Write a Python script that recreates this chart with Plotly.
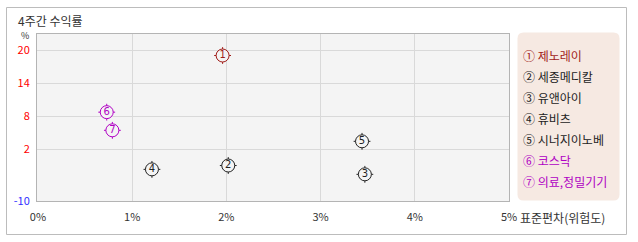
import plotly.graph_objects as go

# ---- data ----
names = ["제노레이", "세종메디칼", "유앤아이", "휴비츠", "시너지이노베", "코스닥", "의료,정밀기기"]
marks = ["①", "②", "③", "④", "⑤", "⑥", "⑦"]
digits = ["1", "2", "3", "4", "5", "6", "7"]
risk = [1.96, 2.02, 3.47, 1.21, 3.44, 0.73, 0.79]        # 표준편차 (%)
ret = [19.0, -1.0, -2.6, -1.7, 3.4, 8.7, 5.4]            # 4주간 수익률 (%)
colors = ["#a01c18", "#222222", "#222222", "#222222", "#222222", "#b000c4", "#b000c4"]
x_ticks = [0, 1, 2, 3, 4, 5]
x_tick_text = ["0%", "1%", "2%", "3%", "4%", "5%"]
y_ticks = [20, 14, 8, 2]
y_bottom_label = "-10"

W, H = 638, 242
L, R, T, B = 37, 129, 34, 41
pw, ph = W - L - R, H - T - B
Y_MIN, Y_MAX = -7.45, 22.91
X_MIN, X_MAX = -0.01, 5.0

def px(x):
    return (x - L) / pw

def py(y):
    return (H - B - y) / ph

fig = go.Figure()

# small tick marks around the circles (cross behind a filled circle)
fig.add_trace(go.Scatter(
    x=risk, y=ret, mode="markers", hoverinfo="skip",
    marker=dict(symbol="cross-thin-open", size=12, color=colors,
                line=dict(color=colors, width=1)),
    showlegend=False, cliponaxis=False))
fig.add_trace(go.Scatter(
    x=risk, y=ret, mode="markers+text", text=digits,
    textposition="middle center",
    textfont=dict(family="DejaVu Sans", size=10, color=colors),
    marker=dict(symbol="circle", size=13, color="#f4f4f4",
                line=dict(color=colors, width=1)),
    showlegend=False, cliponaxis=False))

shapes = []
# outer frame
shapes.append(dict(type="rect", xref="paper", yref="paper",
                   x0=px(6.5), x1=px(626.5), y0=py(7.5), y1=py(234.5),
                   line=dict(color="#bcbcbc", width=1), fillcolor="rgba(0,0,0,0)", layer="below"))
# legend box with rounded corners
lx0, lx1, ly0, ly1, r = 517.5, 619.5, 32.5, 200.5, 6
path = (f"M {px(lx0 + r)},{py(ly0)} L {px(lx1 - r)},{py(ly0)} "
        f"Q {px(lx1)},{py(ly0)} {px(lx1)},{py(ly0 + r)} "
        f"L {px(lx1)},{py(ly1 - r)} Q {px(lx1)},{py(ly1)} {px(lx1 - r)},{py(ly1)} "
        f"L {px(lx0 + r)},{py(ly1)} Q {px(lx0)},{py(ly1)} {px(lx0)},{py(ly1 - r)} "
        f"L {px(lx0)},{py(ly0 + r)} Q {px(lx0)},{py(ly0)} {px(lx0 + r)},{py(ly0)} Z")
shapes.append(dict(type="path", xref="paper", yref="paper", path=path,
                   fillcolor="#f6e9e2", line=dict(width=0), layer="below"))

font = "Noto Sans CJK KR"
ann = []
ann.append(dict(text="4주간 수익률", x=px(16), y=py(20), xref="paper", yref="paper",
                xanchor="left", yanchor="middle", showarrow=False,
                font=dict(family=font, size=12, color="#333333")))
ann.append(dict(text="%", x=px(25), y=py(35.5), xref="paper", yref="paper",
                xanchor="center", yanchor="middle", showarrow=False,
                font=dict(family=font, size=9, color="#333333")))
ann.append(dict(text="표준편차(위험도)", x=px(518), y=py(217), xref="paper", yref="paper",
                xanchor="left", yanchor="middle", showarrow=False,
                font=dict(family=font, size=12, color="#333333")))
for i, (m, n, c) in enumerate(zip(marks, names, colors)):
    ann.append(dict(text=f"{m} {n}", x=px(521), y=py(55 + i * 21.1), xref="paper", yref="paper",
                    xanchor="left", yanchor="middle", showarrow=False,
                    font=dict(family=font, size=12, color=c)))

fig.update_layout(
    width=W, height=H, margin=dict(l=L, r=R, t=T, b=B, pad=0),
    paper_bgcolor="white", plot_bgcolor="#f4f4f4",
    shapes=shapes, annotations=ann, showlegend=False,
    xaxis=dict(range=[X_MIN, X_MAX], tickvals=x_ticks, ticktext=x_tick_text,
               showgrid=True, gridcolor="#d9d9d9", gridwidth=1, zeroline=False,
               showline=True, linecolor="#b4b4b4", linewidth=1, mirror=True,
               ticks="", ticklabelstandoff=6,
               tickfont=dict(family=font, size=11, color="#333333"), fixedrange=True),
    yaxis=dict(range=[Y_MIN, Y_MAX], tickvals=y_ticks + [Y_MIN],
               ticktext=[str(v) for v in y_ticks] + [f"<span style='color:#3030ff'>{y_bottom_label}</span>"],
               showgrid=True, gridcolor="#d9d9d9", gridwidth=1, zeroline=False,
               showline=True, linecolor="#b4b4b4", linewidth=1, mirror=True,
               ticks="", ticklabelstandoff=4,
               tickfont=dict(family=font, size=11, color="#ff0000"), fixedrange=True),
)

fig.write_html("out.html", config={"displayModeBar": False})
